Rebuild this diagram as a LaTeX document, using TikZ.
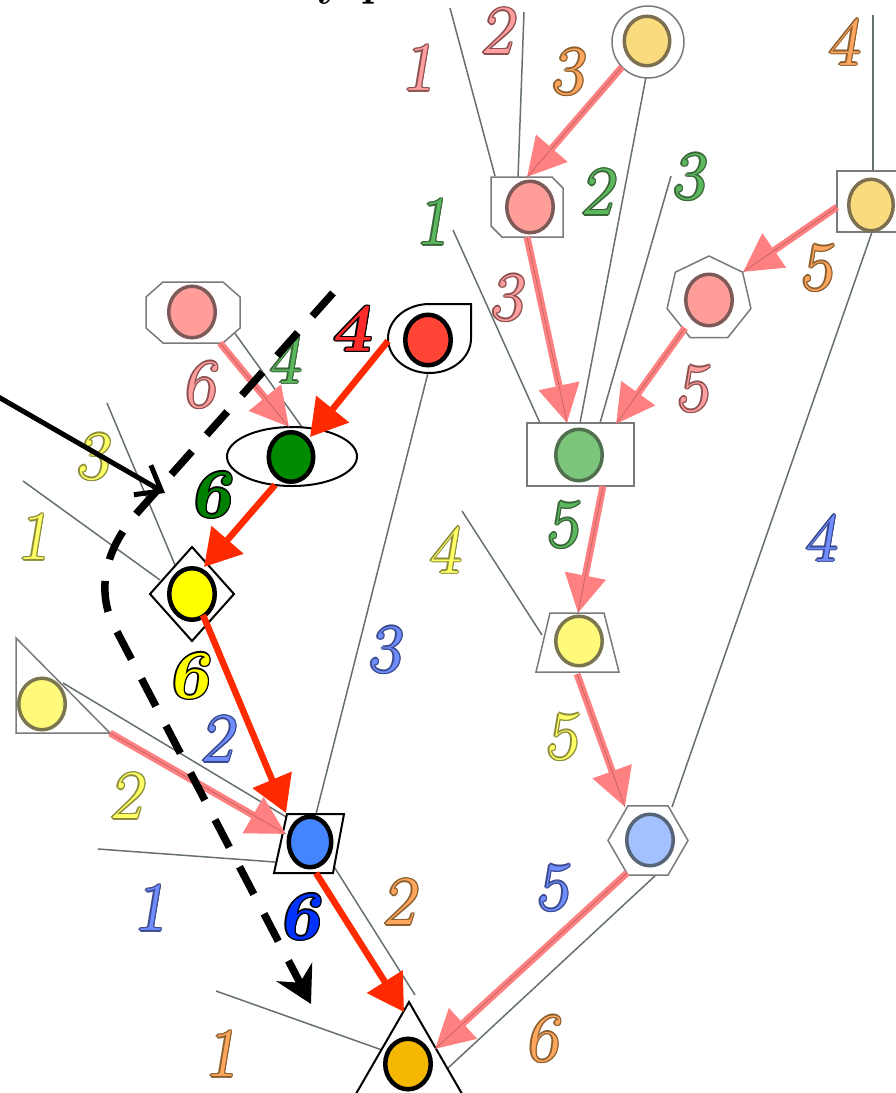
\documentclass[tikz,border=0pt]{standalone}
\usetikzlibrary{arrows.meta,calc,shapes.geometric}

% node fills and rings
\definecolor{pinkN}{HTML}{FF9E99}\definecolor{pinkR}{HTML}{7D5A58}
\definecolor{goldN}{HTML}{FADC7E}\definecolor{goldR}{HTML}{7D7050}
\definecolor{greenN}{HTML}{7CC67C}\definecolor{greenR}{HTML}{4F6F4F}
\definecolor{yelN}{HTML}{FFFA7A}\definecolor{yelR}{HTML}{7A7650}
\definecolor{blueN}{HTML}{A3C0FF}\definecolor{blueR}{HTML}{566478}
\definecolor{hotN}{HTML}{FF4436}\definecolor{dgreenN}{HTML}{008A00}
\definecolor{byelN}{HTML}{FFFF00}\definecolor{bblueN}{HTML}{4584FF}
\definecolor{orangeN}{HTML}{F5B800}
% connectors
\definecolor{edgegray}{HTML}{66706F}\definecolor{shapegray}{HTML}{7A7A7A}
\definecolor{hotred}{HTML}{FF2A00}\definecolor{softred}{HTML}{FF8080}
\definecolor{softline}{HTML}{C86464}
% weight labels
\definecolor{lpF}{HTML}{FF9E9E}\definecolor{lpO}{HTML}{8C5050}
\definecolor{loF}{HTML}{FFA65E}\definecolor{loO}{HTML}{8C6030}
\definecolor{lgF}{HTML}{5CB85C}\definecolor{lgO}{HTML}{3A663A}
\definecolor{lyF}{HTML}{FFFF66}\definecolor{lyO}{HTML}{8C8C3A}
\definecolor{lbF}{HTML}{6F8DFF}\definecolor{lbO}{HTML}{3A4A8C}
\definecolor{wDg}{HTML}{008000}\definecolor{wYe}{HTML}{FFFF00}
\definecolor{wBl}{HTML}{0033FF}\definecolor{wRd}{HTML}{FF2A2A}

% text with a thin outline: fill colour, outline colour, text
\newcommand{\olnum}[3]{%
  \rlap{\color{#2}\kern1.3pt#3}%
  \rlap{\color{#2}\kern-1.3pt#3}%
  \rlap{\color{#2}\raisebox{1.3pt}{#3}}%
  \rlap{\color{#2}\raisebox{-1.3pt}{#3}}%
  \rlap{\color{#2}\kern.9pt\raisebox{.9pt}{#3}}%
  \rlap{\color{#2}\kern-.9pt\raisebox{.9pt}{#3}}%
  \rlap{\color{#2}\kern.9pt\raisebox{-.9pt}{#3}}%
  \rlap{\color{#2}\kern-.9pt\raisebox{-.9pt}{#3}}%
  {\color{#1}#3}}

\pgfdeclarelayer{edges}
\pgfsetlayers{edges,main}

\tikzset{
  edge/.style={draw=edgegray, line width=1.5pt},
  shp/.style={draw=shapegray, line width=1.5pt, fill=white, inner sep=0pt, outer sep=0pt},
  shpb/.style={draw=black, line width=2pt, fill=white, inner sep=0pt, outer sep=0pt},
  ghost/.style={inner sep=0pt, outer sep=0pt, draw=none},
  sdot/.style 2 args={ellipse, inner sep=0pt, outer sep=0pt, minimum width=46.5pt,
    minimum height=51.5pt, line width=3.5pt, fill=#1, draw=#2},
  bdot/.style={ellipse, inner sep=0pt, outer sep=0pt, minimum width=45.5pt,
    minimum height=50.5pt, line width=4.5pt, fill=#1, draw=black},
  hot/.style={draw=hotred, line width=6.5pt, -{Triangle[length=36pt,width=41pt]}},
  soft/.style={draw=softred, line width=7pt, -{Triangle[length=38pt,width=40pt]},
    postaction={draw=softline, line width=0.8pt, -}},
  lab/.style={inner sep=0pt, font=\fontsize{69}{70}\selectfont\slshape},
  blab/.style={inner sep=0pt, font=\fontsize{69}{70}\selectfont\bfseries\slshape},
}

\begin{document}
\begin{tikzpicture}[x=1pt,y=-1pt]
\useasboundingbox (0,0) rectangle (895,1093);

% title running off the top edge
\node[anchor=base west, inner sep=0pt, font=\fontsize{45}{46}\selectfont\bfseries] (title) at (318,-5) {y p};

% ---- outer shapes ----
\node[shp, circle, minimum size=72pt] (oA) at (648,42) {};
\node[ghost, minimum width=72pt, minimum height=60pt] (oB) at (527,207) {};
\draw[shp] (oB.north west) -- ($(oB.north east)+(-11,0)$) -- ($(oB.north east)+(0,11)$)
  -- (oB.south east) -- ($(oB.south west)+(11,0)$) -- ($(oB.south west)+(0,-11)$) -- cycle;
\node[shp, rectangle, minimum width=68pt, minimum height=61pt] (oC) at (871,201.5) {};
\node[shp, regular polygon, regular polygon sides=7, minimum size=86pt] (oD) at (709,299) {};
\node[shp, rectangle, minimum width=107pt, minimum height=63pt] (oE) at (580.5,454.5) {};
\node[ghost, minimum width=83pt, minimum height=59pt] (oF) at (577.5,642.5) {};
\draw[shp] ($(oF.north west)+(14,0)$) -- ($(oF.north east)+(-15,0)$) -- (oF.south east)
  -- (oF.south west) -- cycle;
\node[shp, regular polygon, regular polygon sides=6, minimum size=80pt] (oG) at (648,840.5) {};
\node[shpb, regular polygon, regular polygon sides=3, minimum size=124pt] (oH) at (409,1064) {};
\node[ghost, minimum width=94pt, minimum height=61pt] (oI) at (193,312.5) {};
\draw[shp] ($(oI.north west)+(17,0)$) -- ($(oI.north east)+(-17,0)$) -- ($(oI.north east)+(0,15)$)
  -- ($(oI.south east)+(0,-15)$) -- ($(oI.south east)+(-17,0)$) -- ($(oI.south west)+(17,0)$)
  -- ($(oI.south west)+(0,-15)$) -- ($(oI.north west)+(0,15)$) -- cycle;
\node[ghost, ellipse, minimum width=83pt, minimum height=69pt] (oJ) at (429.5,338.5) {};
\draw[shpb] (oJ.north) -- ++(41.5,0) -- ++(0,34.5)
  arc[start angle=0, end angle=270, x radius=41.5, y radius=34.5] -- cycle;
\node[shpb, ellipse, minimum width=130pt, minimum height=59pt] (oK) at (292,456.5) {};
\node[shpb, diamond, minimum width=84pt, minimum height=94pt] (oL) at (192,594) {};
\node[ghost, minimum width=94pt, minimum height=95pt] (oM) at (63,685.5) {};
\draw[shp] (oM.north west) -- (oM.south west) -- (oM.south east) -- cycle;
\node[ghost, minimum width=70pt, minimum height=59pt] (oN) at (309,843.5) {};
\draw[shpb] ($(oN.north west)+(13,0)$) -- (oN.north east) -- ($(oN.south east)+(-11,0)$)
  -- (oN.south west) -- cycle;

% ---- inner dots ----
\node[sdot={goldN}{goldR}, minimum width=45.5pt, minimum height=49.5pt] (A) at (647,41) {};
\node[sdot={pinkN}{pinkR}] (B) at (530,207) {};
\node[sdot={goldN}{goldR}, minimum width=44.5pt] (C) at (871,205) {};
\node[sdot={pinkN}{pinkR}] (D) at (709,300) {};
\node[sdot={greenN}{greenR}] (E) at (579,455) {};
\node[sdot={yelN}{yelR}, minimum height=49.5pt] (F) at (579,641) {};
\node[sdot={blueN}{blueR}] (G) at (650,840) {};
\node[bdot=orangeN] (H) at (408,1064) {};
\node[sdot={pinkN}{pinkR}] (I) at (192,312) {};
\node[bdot=hotN] (J) at (428,340) {};
\node[bdot=dgreenN, minimum width=44.5pt, minimum height=49.5pt] (K) at (291,457) {};
\node[bdot=byelN, minimum height=51.5pt] (L) at (192,594) {};
\node[sdot={yelN}{yelR}] (M) at (42,704) {};
\node[bdot=bblueN, minimum width=42.5pt] (N) at (310,842) {};

% ---- free ends ----
\coordinate (f1) at (450,8);
\coordinate (f2) at (524,12);
\coordinate (f4) at (671,176);
\coordinate (f5) at (873,15);
\coordinate (f7) at (453,230);
\coordinate (f10) at (107,403);
\coordinate (f11) at (23,481);
\coordinate (f13) at (98,849);
\coordinate (f15) at (216,991);
\coordinate (f17) at (462,511);

% ---- thin tree edges ----
\begin{pgfonlayer}{edges}
\draw[edge] (f1) -- ($(B)+(-35,-31)$);
\draw[edge] (f2) -- ($(B)+(-12,-29)$);
\draw[edge] ($(A)+(-1,36)$) -- ($(E)+(1,-32)$);
\draw[edge] (f4) -- ($(E)+(21,-32)$);
\draw[edge] (f5) -- ($(C)+(2,-34)$);
\draw[edge] ($(C)+(1,27)$) -- ($(G)+(22,-33)$);
\draw[edge] (f7) -- ($(E)+(-39,-32)$);
\draw[edge] ($(I)+(42,20)$) -- ($(K)+(11,-30)$);
\draw[edge] ($(J)+(0,33)$) -- ($(N)+(6,-28)$);
\draw[edge] (f10) -- ($(L)+(-17,-29)$);
\draw[edge] (f11) -- ($(L)+(-32,-14)$);
\draw[edge] ($(M)+(21,-21)$) -- ($(N)+(-22,-24)$);
\draw[edge] (f13) -- ($(N)+(-35,20)$);
\draw[edge] ($(N)+(23,23)$) -- ($(H)+(7,-69)$);
\draw[edge] (f15) -- ($(H)+(-26,-14)$);
\draw[edge] ($(G)+(7,34)$) -- ($(H)+(40,4)$);
\draw[edge] (f17) -- ($(F)+(-37,-6)$);
\end{pgfonlayer}

% ---- soft arrows ----
\draw[soft] ($(A)+(-25,26)$) -- ($(B)+(-3,-30)$);
\draw[soft] ($(C)+(-34,2)$) -- ($(D)+(34,-28)$);
\draw[soft] ($(B)+(-3,30)$) -- ($(E)+(-12,-32)$);
\draw[soft] ($(D)+(-24,28)$) -- ($(E)+(37,-31)$);
\draw[soft] ($(E)+(24,31)$) -- ($(F)+(-1,-28)$);
\draw[soft] ($(F)+(-2,33)$) -- ($(G)+(-25,-33)$);
\draw[soft] ($(G)+(-23,33)$) -- ($(H)+(27,-15)$);
\draw[soft] ($(I)+(28,31)$) -- ($(K)+(-2,-30)$);
\draw[soft] ($(M)+(68,29)$) -- ($(N)+(-24,-8)$);

% ---- hot arrows ----
\draw[hot] ($(J)+(-40,1)$) -- ($(K)+(19,-20)$);
\draw[hot] ($(K)+(-16,28)$) -- ($(L)+(12,-27)$);
\draw[hot] ($(L)+(11,21)$) -- ($(N)+(-24,-29)$);
\draw[hot] ($(N)+(6,31)$) -- ($(H)+(-4,-52)$);

% ---- weights ----
\node[lab] (w1) at (418,68) {\olnum{lpF}{lpO}{1}};
\node[lab] (w2) at (497,31) {\olnum{lpF}{lpO}{2}};
\node[lab] (w3) at (506,298) {\olnum{lpF}{lpO}{3}};
\node[lab] (w4) at (692,389) {\olnum{lpF}{lpO}{5}};
\node[lab] (w5) at (199,385) {\olnum{lpF}{lpO}{6}};
\node[lab] (w6) at (567,72) {\olnum{loF}{loO}{3}};
\node[lab] (w7) at (843,42) {\olnum{loF}{loO}{4}};
\node[lab] (w8) at (816,268) {\olnum{loF}{loO}{5}};
\node[lab] (w9) at (399,902) {\olnum{loF}{loO}{2}};
\node[lab] (w10) at (221,1054) {\olnum{loF}{loO}{1}};
\node[lab] (w11) at (542,1039) {\olnum{loF}{loO}{6}};
\node[lab] (w12) at (432,222) {\olnum{lgF}{lgO}{1}};
\node[lab] (w13) at (597,192) {\olnum{lgF}{lgO}{2}};
\node[lab] (w14) at (688,177) {\olnum{lgF}{lgO}{3}};
\node[lab] (w15) at (284,360) {\olnum{lgF}{lgO}{4}};
\node[lab] (w16) at (562,525) {\olnum{lgF}{lgO}{5}};
\node[lab] (w17) at (92,457) {\olnum{lyF}{lyO}{3}};
\node[lab] (w18) at (33,537) {\olnum{lyF}{lyO}{1}};
\node[lab] (w19) at (444,550) {\olnum{lyF}{lyO}{4}};
\node[lab] (w20) at (126,796) {\olnum{lyF}{lyO}{2}};
\node[lab] (w21) at (561,737) {\olnum{lyF}{lyO}{5}};
\node[lab] (w22) at (384,650) {\olnum{lbF}{lbO}{3}};
\node[lab] (w23) at (820,538) {\olnum{lbF}{lbO}{4}};
\node[lab] (w24) at (217,739) {\olnum{lbF}{lbO}{2}};
\node[lab] (w25) at (150,908) {\olnum{lbF}{lbO}{1}};
\node[lab] (w26) at (552,888) {\olnum{lbF}{lbO}{5}};
\node[blab] (w27) at (211,495) {\olnum{wDg}{black}{6}};
\node[blab] (w28) at (189,676) {\olnum{wYe}{black}{6}};
\node[blab] (w29) at (300,917) {\olnum{wBl}{black}{6}};
\node[blab] (w30) at (351,329) {\olnum{wRd}{black}{4}};

% ---- pointer and dashed route ----
\coordinate (b0) at (-5,395);
\coordinate (b1) at (165,493);
\draw[line width=5pt, -{Straight Barb[length=22pt,width=34pt]}] (b0) -- (b1);

\coordinate (d0) at (333,293);
\coordinate (d1) at (137,513);
\coordinate (c1) at (100,555);
\coordinate (c2) at (100,595);
\coordinate (d2) at (112,622);
\coordinate (d3) at (311,1004);
\draw[line width=7.5pt, dash pattern=on 31pt off 22pt,
  -{Stealth[length=36pt,width=40pt,inset=12pt]}]
  (d0) -- (d1) .. controls (c1) and (c2) .. (d2) -- (d3);
\end{tikzpicture}
\end{document}
